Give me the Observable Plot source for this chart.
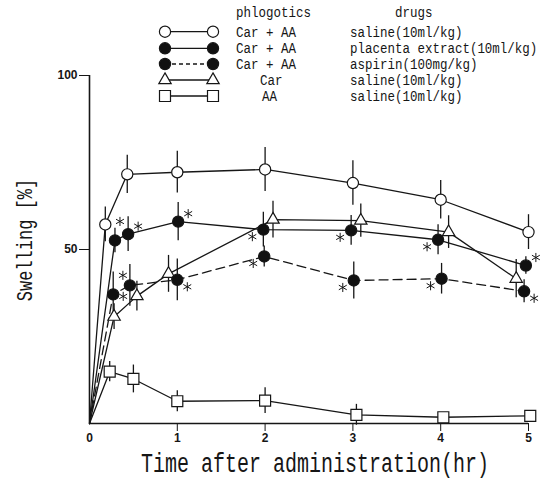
<!DOCTYPE html>
<html>
<head>
<meta charset="utf-8">
<script src="https://cdn.jsdelivr.net/npm/d3@7"></script>
<script src="https://cdn.jsdelivr.net/npm/@observablehq/plot@0.6"></script>
<style>
  body { margin: 0; background: #fff; }
  #chart { width: 552px; height: 479px; }
</style>
</head>
<body>
<div id="chart"></div>
<script>
// ---- data (time in hr, swelling in %, SEM) ----
const salineT = [0, 0.18, 0.43, 1.0, 2.0, 3.0, 4.0, 5.0];
const salineY = [0, 57.2, 71.6, 72.2, 73.0, 69.1, 64.3, 55.0];
const salineE = [0, 5.0, 5.5, 6.0, 6.3, 6.4, 5.5, 5.0];

const placentaT = [0, 0.29, 0.44, 1.01, 1.98, 2.98, 3.97, 4.97];
const placentaY = [0, 52.6, 54.4, 58.0, 55.7, 55.5, 52.8, 45.4];
const placentaE = [0, 3.5, 5.0, 5.5, 5.0, 4.3, 4.3, 2.5];
const placentaSig = ["", "u", "ur", "ur", "ll", "ll", "ll", "ur"];

const aspirinT = [0, 0.27, 0.46, 1.0, 1.99, 3.01, 4.01, 4.95];
const aspirinY = [0, 37.1, 39.7, 41.3, 48.0, 41.1, 41.6, 38.0];
const aspirinE = [0, 6.4, 6.0, 6.0, 3.0, 5.3, 4.4, 3.3];
const aspirinSig = ["", "r", "ul", "lr", "ll", "ll", "ll", "lr"];

const carT = [0, 0.28, 0.54, 0.9, 2.09, 3.09, 4.09, 4.86];
const carY = [0, 30.7, 36.6, 43.0, 58.6, 58.3, 55.0, 41.6];
const carE = [0, 3.7, 4.3, 5.3, 5.3, 4.8, 4.7, 5.5];

const aaT = [0, 0.23, 0.5, 1.0, 2.0, 3.04, 4.03, 5.02];
const aaY = [0, 14.9, 12.8, 6.4, 6.6, 2.5, 1.8, 2.2];
const aaE = [0, 2.9, 4.0, 3.0, 3.7, 3.0, 0, 0];

const yTicks = [50, 100];
const xTicks = [1, 2, 3, 4, 5];
const xZeroLabel = [0];

const xTitle = "Time after administration(hr)";
const yTitle = "Swelling [%]";
const legendHeader = ["phlogotics", "drugs"];
const legendPhlogotics = ["Car + AA", "Car + AA", "Car + AA", "Car", "AA"];
const legendDrugs = ["saline(10ml/kg)", "placenta extract(10ml/kg)", "aspirin(100mg/kg)", "saline(10ml/kg)", "saline(10ml/kg)"];

// ---- assemble ----
const series = [
  {key: "saline", T: salineT, Y: salineY, E: salineE, sig: null, symbol: "circle", fill: "white", r: 5.6, dash: null},
  {key: "placenta", T: placentaT, Y: placentaY, E: placentaE, sig: placentaSig, symbol: "circle", fill: "#111", r: 5.6, dash: null},
  {key: "aspirin", T: aspirinT, Y: aspirinY, E: aspirinE, sig: aspirinSig, symbol: "circle", fill: "#111", r: 5.6, dash: "9,5"},
  {key: "car", T: carT, Y: carY, E: carE, sig: null, symbol: "triangle", fill: "white", r: 4.6, dash: null},
  {key: "aa", T: aaT, Y: aaY, E: aaE, sig: null, symbol: "square", fill: "white", r: 6.2, dash: null}
];
const rows = series.map(s => s.T.map((t, i) => ({series: s.key, t, y: s.Y[i], e: s.E[i], sig: s.sig ? s.sig[i] : ""})));

const starOffsets = {u: [5, -19], ur: [10, -8], ll: [-11, 7], r: [10, 2], ul: [-7, -10], lr: [10, 7]};
const allRows = rows.flat();
const INK = "#161616";

const marks = [];
// error bars
marks.push(Plot.ruleX(allRows.filter(d => d.e > 0), {x: "t", y1: d => d.y - d.e, y2: d => d.y + d.e, stroke: INK, strokeWidth: 1.3}));
// lines
series.forEach((s, i) => {
  marks.push(Plot.line(rows[i], {x: "t", y: "y", stroke: INK, strokeWidth: 1.3, strokeDasharray: s.dash || undefined}));
});
// axis lines
marks.push(Plot.ruleX([0], {stroke: INK, strokeWidth: 1.6}));
marks.push(Plot.ruleY([0], {stroke: INK, strokeWidth: 1.6}));
// markers (reverse order so upper series sit on top)
series.slice().reverse().forEach(s => {
  const i = series.indexOf(s);
  marks.push(Plot.dot(rows[i].filter(d => d.t > 0), {x: "t", y: "y", symbol: s.symbol, r: s.r, fill: s.fill, stroke: INK, strokeWidth: 1.2}));
});
// significance asterisks
Object.entries(starOffsets).forEach(([k, [dx, dy]]) => {
  marks.push(Plot.dot(allRows.filter(d => d.sig === k), {x: "t", y: "y", dx, dy, symbol: "asterisk", r: 4.3, stroke: INK, strokeWidth: 1}));
});
// axes
marks.push(Plot.axisY({ticks: yTicks, tickSize: 10, tickPadding: 2, tickFormat: d => d, label: null, fontWeight: "bold", fontSize: 12, stroke: INK}));
marks.push(Plot.axisX({ticks: xTicks, tickSize: 8, tickPadding: 2, tickFormat: d => d, label: null, fontWeight: "bold", fontSize: 12, stroke: INK}));
marks.push(Plot.text(xZeroLabel, {x: d => d, frameAnchor: "bottom", lineAnchor: "top", dy: 10, text: d => String(d), fontWeight: "bold", fontSize: 12}));

const chart = Plot.plot({
  width: 552,
  height: 479,
  marginLeft: 89,
  marginRight: 24,
  marginTop: 75,
  marginBottom: 56,
  x: {domain: [0, 5]},
  y: {domain: [0, 100]},
  style: {fontFamily: "Liberation Sans", fontSize: "12px", color: INK, background: "white", overflow: "visible"},
  marks
});
document.getElementById("chart").appendChild(chart);

const svg = d3.select(chart);
const mono = (g, txt, transform, size, anchor) => g.append("text")
  .attr("transform", transform)
  .attr("font-family", "Liberation Mono").attr("font-size", size)
  .attr("text-anchor", anchor).attr("fill", INK).text(txt);

// ---- axis titles (tall, narrow typewriter lettering) ----
const titles = svg.append("g").attr("class", "titles");
mono(titles, xTitle, "translate(315,472) scale(1,1.4)", 20, "middle");
mono(titles, yTitle, "translate(32,240) rotate(-90) scale(1,1.35)", 17, "middle");

// ---- legend ----
const lg = svg.append("g").attr("class", "legend");
const rowY = [31.7, 48.3, 64, 80, 96];
const symX = [165, 213];
const phX = [236, 236, 236, 260, 262];
mono(lg, legendHeader[0], "translate(236,17) scale(1,1.1)", 12.5, "start");
mono(lg, legendHeader[1], "translate(395,17) scale(1,1.1)", 12.5, "start");
series.forEach((s, i) => {
  const y = rowY[i];
  lg.append("line").attr("x1", symX[0]).attr("x2", symX[1]).attr("y1", y).attr("y2", y)
    .attr("stroke", INK).attr("stroke-width", 1.3).attr("stroke-dasharray", s.dash ? "4,3" : null);
  const type = s.symbol === "circle" ? d3.symbolCircle : s.symbol === "triangle" ? d3.symbolTriangle : d3.symbolSquare;
  symX.forEach(x => {
    lg.append("path").attr("d", d3.symbol(type, Math.PI * s.r * s.r)())
      .attr("transform", `translate(${x},${y})`)
      .attr("fill", s.fill).attr("stroke", INK).attr("stroke-width", 1.2);
  });
  mono(lg, legendPhlogotics[i], `translate(${phX[i]},${y + 5}) scale(1,1.1)`, 12.5, "start");
  mono(lg, legendDrugs[i], `translate(350,${y + 5}) scale(1,1.1)`, 12.5, "start");
});
</script>
</body>
</html>
